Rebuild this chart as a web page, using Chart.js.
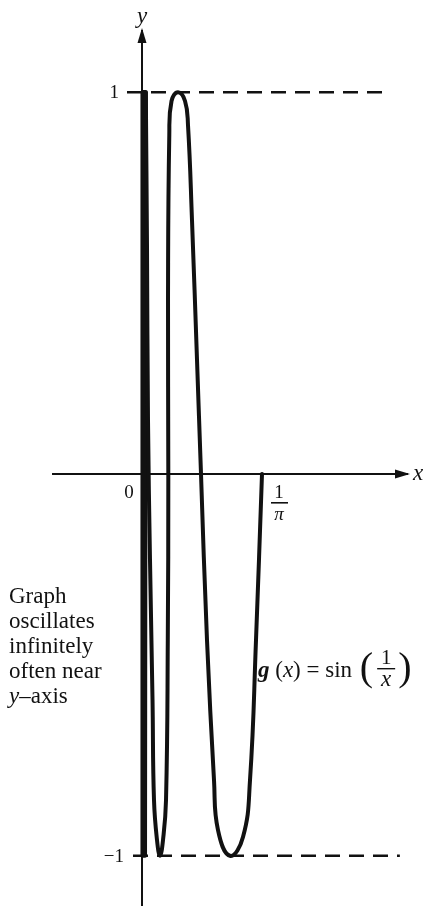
<!DOCTYPE html>
<html>
<head>
<meta charset="utf-8">
<script src="https://cdn.jsdelivr.net/npm/chart.js@4/dist/chart.umd.min.js"></script>
<style>
  html, body { margin: 0; padding: 0; background: #fff; }
  canvas { display: block; }
</style>
</head>
<body>
<canvas id="graph" width="425" height="906"></canvas>
<script>
const curveX = [0.3183, 0.3024, 0.2865, 0.2679, 0.2334, 0.2016, 0.1910, 0.1724, 0.1565, 0.1459,
                0.1326, 0.1220, 0.1141, 0.0955, 0.0783, 0.0724, 0.0690, 0.0698, 0.0684, 0.0637,
                0.0557, 0.0477, 0.0398, 0.0318, 0.0279, 0.0212, 0.0159, 0.0133, 0.0101];
const curveY = [0, -0.435, -0.802, -0.951, -1, -0.933, -0.802, -0.435, 0, 0.299,
                0.665, 0.914, 0.977, 1, 0.977, 0.888, 0.456, 0, -0.435, -0.854,
                -0.959, -1, -0.959, -0.854, -0.592, -0.225, 0.141, 0.587, 1];
// the solid band of oscillations squeezed against the y-axis
const bandX = [0.0101, 0.0080, 0.0064, 0.0048, 0.0034, 0.0024, 0.0016, 0.0008];
const bandY = [1, -1, 1, -1, 1, -1, 1, -1];

// dashed guide lines at y = 1 and y = -1
const dashY = [1, -1];
const dashStartX = [-0.0398, -0.0239];
const dashEndX = [0.658, 0.684];

// axes
const xAxisFrom = -0.2387, xAxisTo = 0.7056;
const yAxisFrom = -1.1316, yAxisTo = 1.163;
const xMin = -0.3767, xMax = 0.7507;
const yMin = -1.1316, yMax = 1.2416;
const xTickValue = 1 / Math.PI;

const leftNote = ["Graph", "oscillates", "infinitely", "often near", "y\u2013axis"];

const datasets = [];
datasets.push({
  data: curveX.map((x, i) => ({ x: x, y: curveY[i] })),
  showLine: true, borderColor: "#111", borderWidth: 4, tension: 0.45,
  pointRadius: 0, borderCapStyle: "round", borderJoinStyle: "round"
});
datasets.push({
  data: bandX.map((x, i) => ({ x: x, y: bandY[i] })),
  showLine: true, borderColor: "#111", borderWidth: 4, tension: 0,
  pointRadius: 0, borderCapStyle: "round", borderJoinStyle: "round"
});
dashY.forEach((y, i) => {
  datasets.push({
    data: [{ x: dashStartX[i], y: y }, { x: dashEndX[i], y: y }],
    showLine: true, borderColor: "#111", borderWidth: 2.5, borderDash: [15, 9],
    pointRadius: 0
  });
});
datasets.push({
  data: [{ x: xAxisFrom, y: 0 }, { x: xAxisTo, y: 0 }],
  showLine: true, borderColor: "#111", borderWidth: 2, pointRadius: 0
});
datasets.push({
  data: [{ x: 0, y: yAxisFrom }, { x: 0, y: yAxisTo }],
  showLine: true, borderColor: "#111", borderWidth: 2, pointRadius: 0
});

const SERIF = "'Liberation Serif', 'DejaVu Serif', serif";

// arrow heads and all the labels
const decorations = {
  id: "decorations",
  afterDatasetsDraw(chart) {
    const ctx = chart.ctx;
    const xs = chart.scales.x, ys = chart.scales.y;
    const ox = xs.getPixelForValue(0), oy = ys.getPixelForValue(0);
    ctx.save();
    ctx.fillStyle = "#111";

    // y arrow
    const ty = ys.getPixelForValue(yAxisTo);
    ctx.beginPath();
    ctx.moveTo(ox, ty - 2);
    ctx.lineTo(ox - 4.5, ty + 13);
    ctx.lineTo(ox + 4.5, ty + 13);
    ctx.closePath();
    ctx.fill();
    // x arrow
    const tx = xs.getPixelForValue(xAxisTo);
    ctx.beginPath();
    ctx.moveTo(tx + 2, oy);
    ctx.lineTo(tx - 13, oy - 4.5);
    ctx.lineTo(tx - 13, oy + 4.5);
    ctx.closePath();
    ctx.fill();

    ctx.textBaseline = "middle";
    ctx.textAlign = "center";
    ctx.font = "italic 23px " + SERIF;
    ctx.fillText("y", ox, ty - 13);
    ctx.textAlign = "left";
    ctx.fillText("x", tx + 5, oy);

    ctx.font = "19px " + SERIF;
    ctx.textAlign = "center";
    ctx.fillText("0", ox - 13, oy + 19);
    ctx.textAlign = "right";
    ctx.fillText("1", ox - 23, ys.getPixelForValue(1) + 1);
    ctx.fillText("\u22121", ox - 18, ys.getPixelForValue(-1) + 1);

    // 1/pi tick label
    const px = xs.getPixelForValue(xTickValue) + 17;
    ctx.textAlign = "center";
    ctx.fillText("1", px, oy + 19);
    ctx.fillRect(px - 8, oy + 28, 17, 1.6);
    ctx.font = "italic 19px " + SERIF;
    ctx.fillText("\u03c0", px, oy + 41);

    // note on the left
    ctx.textBaseline = "alphabetic";
    ctx.textAlign = "left";
    leftNote.forEach((line, i) => {
      const base = oy + 129 + i * 25;
      if (line.startsWith("y")) {
        ctx.font = "italic 23px " + SERIF;
        ctx.fillText("y", 9, base);
        const w = ctx.measureText("y").width;
        ctx.font = "23px " + SERIF;
        ctx.fillText(line.slice(1), 9 + w, base);
      } else {
        ctx.font = "23px " + SERIF;
        ctx.fillText(line, 9, base);
      }
    });

    // formula g(x) = sin(1/x)
    let fx = 258;
    const fb = oy + 203;
    const parts = [
      ["bold italic 23px ", "g"], ["23px ", " ("], ["italic 23px ", "x"], ["23px ", ") = sin "]
    ];
    parts.forEach(p => {
      ctx.font = p[0] + SERIF;
      ctx.fillText(p[1], fx, fb);
      fx += ctx.measureText(p[1]).width;
    });
    ctx.font = "40px " + SERIF;
    ctx.textBaseline = "middle";
    ctx.fillText("(", fx + 2, fb - 7);
    fx += ctx.measureText("(").width + 4;
    ctx.font = "21px " + SERIF;
    ctx.textAlign = "center";
    ctx.fillText("1", fx + 11, fb - 19);
    ctx.fillRect(fx + 2, fb - 9, 18, 1.4);
    ctx.font = "italic 23px " + SERIF;
    ctx.fillText("x", fx + 11, fb + 3);
    ctx.font = "40px " + SERIF;
    ctx.textAlign = "left";
    ctx.fillText(")", fx + 23, fb - 7);

    ctx.restore();
  }
};

new Chart(document.getElementById("graph"), {
  type: "scatter",
  data: { datasets: datasets },
  options: {
    responsive: false,
    animation: false,
    events: [],
    layout: { padding: 0 },
    plugins: { legend: { display: false }, tooltip: { enabled: false } },
    scales: {
      x: { type: "linear", min: xMin, max: xMax, display: false },
      y: { type: "linear", min: yMin, max: yMax, display: false }
    }
  },
  plugins: [decorations]
});
</script>
</body>
</html>
